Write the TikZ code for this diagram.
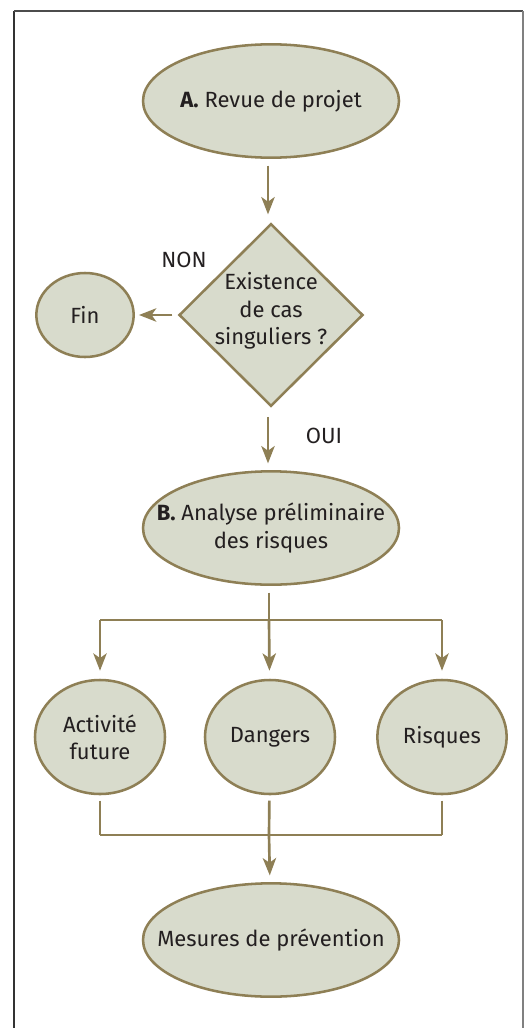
\documentclass[tikz,border=0pt]{standalone}
\usepackage{fontspec}
\setmainfont{Fira Sans}
\usetikzlibrary{shapes.geometric,arrows.meta}
\definecolor{fillc}{HTML}{D8DBCC}
\definecolor{linec}{HTML}{8E7F55}
\definecolor{txtc}{HTML}{231F20}
\tikzset{
  lbl/.style={text=txtc,align=center,font=\fontsize{16.5}{20.5}\selectfont},
  bubble/.style={ellipse,draw=linec,fill=fillc,line width=1.9pt,inner sep=0pt},
  conn/.style={draw=linec,line width=2pt},
  arr/.style={conn,-{Stealth[length=13pt,width=10pt,inset=3.5pt]}}
}
\begin{document}
\begin{tikzpicture}[x=0.75pt,y=-0.75pt]
\useasboundingbox (0,0) rectangle (525,1028);
% frame
\draw[color=black!80,line width=1.5pt] (14,1028) -- (14,11);
\draw[color=black!70,line width=1.5pt] (14,11) -- (523,11);
\draw[color=black!50,line width=1.5pt] (523,11) -- (523,1028);
% nodes
\node[bubble,minimum width=192pt,minimum height=85pt] (A) at (271,101) {};
\node[lbl] (At) at (A.center) {\textbf{A.} Revue de projet};
\node[diamond,draw=linec,fill=fillc,line width=1.9pt,inner sep=0pt,minimum width=138pt,minimum height=137pt] (dec) at (271,315) {};
\node[lbl] (dect) at (271,311) {Existence\\de cas\\singuliers ?};
\node[bubble,minimum width=73pt,minimum height=63pt] (fin) at (85,315) {};
\node[lbl] (fint) at (fin.center) {Fin};
\node[lbl] (non) at (184,260) {NON};
\node[lbl] (oui) at (324,436) {OUI};
\node[bubble,minimum width=192pt,minimum height=85pt] (B) at (271,528) {};
\node[lbl] (Bt) at (B.center) {\textbf{B.} Analyse préliminaire\\des risques};
\node[bubble,minimum width=97.5pt,minimum height=85.5pt] (act) at (100,737) {};
\node[lbl] (actt) at (act.center) {Activité\\future};
\node[bubble,minimum width=97.5pt,minimum height=85.5pt] (dan) at (270,737) {};
\node[lbl] (dant) at (dan.center) {Dangers};
\node[bubble,minimum width=97pt,minimum height=85.5pt] (ris) at (442,737) {};
\node[lbl] (rist) at (ris.center) {Risques};
\node[bubble,minimum width=192pt,minimum height=85pt] (mes) at (271,940) {};
\node[lbl] (mest) at (mes.center) {Mesures de prévention};
% coordinates
\coordinate (s) at (269,620);
\coordinate (sl) at (100,620);
\coordinate (sr) at (442,620);
\coordinate (jl) at (100,835);
\coordinate (jm) at (269,835);
\coordinate (jr) at (442,835);
% connectors
\draw[arr,shorten <=5pt,shorten >=6pt] (A.south -| 268,0) -- (dec.north -| 268,0);
\draw[arr,shorten <=4pt,shorten >=3pt] (dec.west) -- (fin.east);
\draw[arr,shorten <=7pt,shorten >=5pt] (dec.south -| 268,0) -- (B.north -| 268,0);
\draw[conn,shorten <=5pt] (B.south -| s) -- (s);
\draw[conn] (sl) -- (sr);
\draw[arr,shorten >=6pt] (sl) -- (act);
\draw[arr,shorten >=6pt] (s) -- (dan);
\draw[arr,shorten >=6pt] (sr) -- (ris);
\draw[conn,shorten <=4pt] (act) -- (jl);
\draw[conn,shorten <=4pt] (ris) -- (jr);
\draw[conn] (jl) -- (jr);
\draw[conn,shorten <=4pt] (dan) -- (jm);
\draw[arr,shorten >=5pt] (jm) -- (mes);
\end{tikzpicture}
\end{document}
